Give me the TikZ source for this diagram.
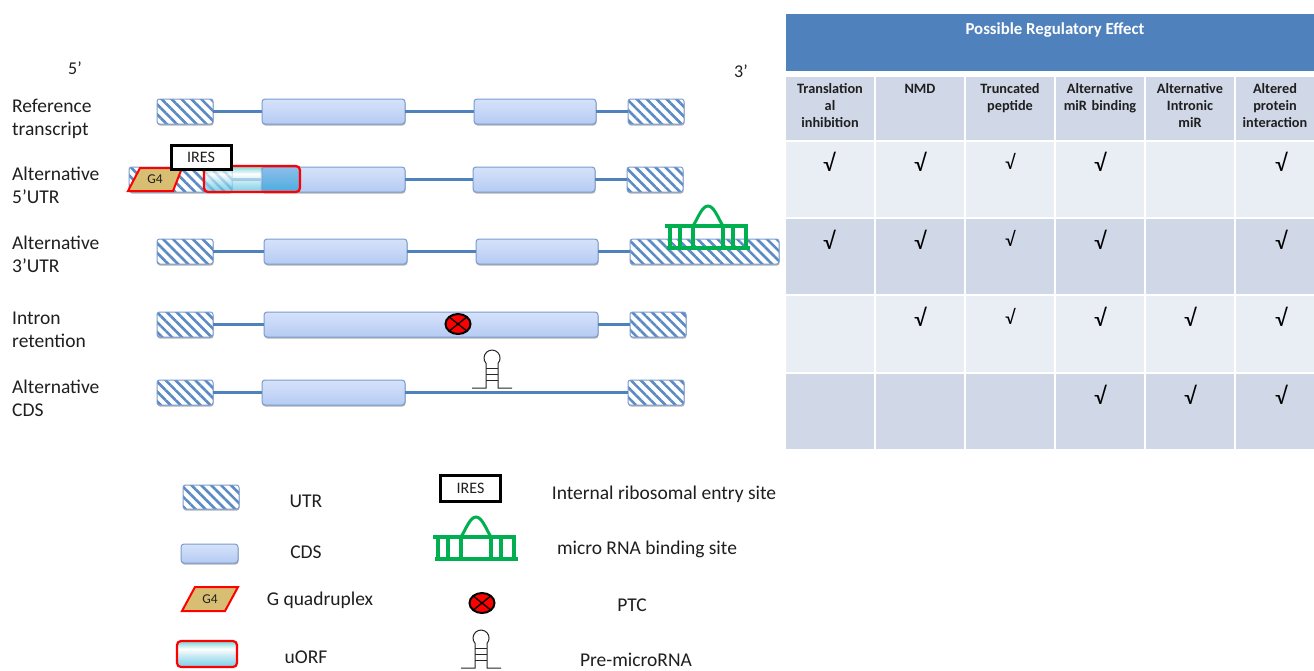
\documentclass[tikz,border=0pt]{standalone}
\usepackage{fontspec}
\setmainfont{Carlito}
\usetikzlibrary{patterns.meta,shadows,shapes.geometric,calc}
\definecolor{utrblue}{HTML}{5B8AC4}
\definecolor{lineblue}{HTML}{4F81BD}
\definecolor{cdstop}{HTML}{D6E2FA}
\definecolor{cdsbot}{HTML}{B5CBF3}
\definecolor{cdsedge}{HTML}{7A9CCF}
\definecolor{headblue}{HTML}{4F81BD}
\definecolor{celldark}{HTML}{D0D8E8}
\definecolor{celllight}{HTML}{E9EDF4}
\definecolor{mirgreen}{HTML}{00B050}
\definecolor{gold}{HTML}{D8BE72}
\definecolor{txt}{HTML}{1F1F1F}
\definecolor{uorftop}{HTML}{45C4C4}
\definecolor{uorfbot}{HTML}{4CBCE0}
\definecolor{uorfmid}{HTML}{A8E0F0}
\definecolor{overtop}{HTML}{8CBDEA}
\definecolor{overbot}{HTML}{4FAEE0}
\pgfdeclareverticalshading{uorfshade}{100bp}{color(0bp)=(uorfbot); color(25bp)=(uorfbot); color(45bp)=(uorfmid); color(60bp)=(white); color(75bp)=(uorftop); color(100bp)=(uorftop)}
\tikzset{
  x=1pt,y=-1pt,
  softshadow/.style={drop shadow={shadow xshift=0.5pt,shadow yshift=-1.5pt,opacity=.3,fill=black}},
  base/.style={rectangle,inner sep=0pt,outer sep=0pt},
  utrbox/.style={base,rounded corners=2.5pt,softshadow,preaction={fill=white},draw=cdsedge,line width=1pt,
    pattern={Lines[angle=-45,distance=7pt,line width=2.6pt]},pattern color=utrblue},
  cdsbox/.style={base,rounded corners=3pt,softshadow,draw=cdsedge,line width=1pt,top color=cdstop,bottom color=cdsbot},
  uorffill/.style={base,rounded corners=4pt,fill opacity=.72,shading=uorfshade},
  uorfedge/.style={base,rounded corners=4pt,draw=red,line width=2.2pt},
  overlap/.style={base,rounded corners=2pt,draw=cdsedge,line width=.8pt,top color=overtop,bottom color=overbot},
  iresbox/.style={base,draw=black,line width=3pt,fill=white,font=\fontsize{16}{18}\selectfont,text=txt},
  backbone/.style={draw=lineblue,line width=2.8pt},
  gfour/.style={draw=red,line width=2pt,fill=gold,line join=miter},
  ptcmark/.style={ellipse,draw=black,line width=2pt,fill=red,inner sep=0pt,outer sep=0pt,minimum width=25pt,minimum height=20pt},
  ptccross/.style={draw=black,line width=1.4pt},
  hairpin/.style={draw=black!85,line width=1pt},
  mirline/.style={draw=mirgreen,line width=3.4pt},
  lab/.style={inner sep=0pt,align=left,anchor=west,font=\fontsize{19.5}{23}\selectfont,text=txt},
  leg/.style={inner sep=0pt,font=\fontsize{19.5}{22}\selectfont,text=txt},
  th/.style={base,fill=celldark,align=center,font=\bfseries\fontsize{14.3}{16.7}\selectfont,text=txt},
  tick/.style={inner sep=0pt,font=\fontsize{24}{26}\selectfont,text=black},
  ticksm/.style={inner sep=0pt,font=\fontsize{20}{22}\selectfont,text=black},
}
\newcommand{\bx}[6]{\node[#2,minimum width={(#5-#3)*1pt},minimum height={(#6-#4)*1pt}] (#1) at ({(#3+#5)/2},{(#4+#6)/2}) {};}
\newcommand{\thx}[7]{\node[th,anchor=north,text width={(#5-#3)*1pt},minimum width={(#5-#3)*1pt},minimum height={(#6-#4)*1pt}] (#1) at ({(#3+#5)/2},#4) {\vspace{3pt}\\[-16pt]#7};}
\newcommand{\mirglyph}[2]{\begin{scope}[shift={(#1,#2)}]
  \foreach \v in {5,15,28,58,68,81}{\draw[mirline] (\v,0) -- (\v,22);}
  \draw[mirline] (0,0) -- (83,0);
  \draw[mirline] (2,22) -- (85,22);
  \draw[mirline,line width=3pt,line cap=round] (28,0) .. controls (33,-8) and (37,-20) .. (43,-20) .. controls (49,-20) and (53,-8) .. (58,0);
\end{scope}}
\newcommand{\hairglyph}[2]{\begin{scope}[shift={(#1,#2)}]
  \draw[hairpin] (-20,30) -- (-6,30) -- (-6,5.3) arc[start angle=139,end angle=401,radius=8] -- (6,30) -- (20,30);
  \foreach \v in {10,16,22}{\draw[hairpin] (-6,\v) -- (6,\v);}
\end{scope}}
\newcommand{\ptc}[3]{\node[ptcmark] (#1) at (#2,#3) {};
  \draw[ptccross] (#1.north west) -- (#1.south east);
  \draw[ptccross] (#1.north east) -- (#1.south west);}
\begin{document}
\begin{tikzpicture}
\useasboundingbox (0,0) rectangle (1314,670);
\fill[white] (0,0) rectangle (1314,670);

% ---- end labels
\node[inner sep=0pt,font=\fontsize{18}{20}\selectfont,text=txt] (five) at (75,68) {5’};
\node[inner sep=0pt,font=\fontsize{18}{20}\selectfont,text=txt] (three) at (741,71) {3’};

% ---- row labels
\node[lab] (l1) at (12,119) {Reference\\transcript};
\node[lab] (l2) at (12,185) {Alternative\\5’UTR};
\node[lab] (l3) at (12,254) {Alternative\\3’UTR};
\node[lab] (l4) at (12,330) {Intron\\retention};
\node[lab] (l5) at (12,398.5) {Alternative\\CDS};

% ---- reference transcript
\bx{a1}{utrbox}{157}{99}{213}{124}
\bx{a2}{cdsbox}{262}{99}{405}{124}
\bx{a3}{cdsbox}{474}{99}{596}{124}
\bx{a4}{utrbox}{628}{99}{684}{124}
\draw[backbone] (a1.east) -- (a2.west);
\draw[backbone] (a2.east) -- (a3.west);
\draw[backbone] (a3.east) -- (a4.west);

% ---- alternative 5'UTR
\bx{b1}{utrbox}{129}{167}{232}{192}
\bx{b2}{cdsbox}{261}{167}{405}{192}
\bx{b3}{cdsbox}{473}{167}{595}{192}
\bx{b4}{utrbox}{627}{167}{683}{192}
\draw[backbone] (b1.east) -- (b2.west);
\draw[backbone] (b2.east) -- (b3.west);
\draw[backbone] (b3.east) -- (b4.west);
\bx{b5}{uorffill}{204}{166}{300}{192}
\bx{b6}{overlap}{262}{167.5}{299}{190.5}
\bx{b7}{uorfedge}{204}{166}{300}{192}
\path[gfour] (140,168) -- (182,168) -- (173,191) -- (128,191) -- cycle;
\node[inner sep=0pt,font=\fontsize{13.5}{14}\selectfont,text=txt] (g1) at (155,179.5) {G4};
\node[iresbox,minimum width=60pt,minimum height=24pt] (i1) at (201,157) {IRES};

% ---- alternative 3'UTR
\bx{c1}{utrbox}{157}{239}{213}{264}
\bx{c2}{cdsbox}{264}{239}{407}{264}
\bx{c3}{cdsbox}{476}{239}{598}{264}
\bx{c4}{utrbox}{630}{239}{779}{264}
\draw[backbone] (c1.east) -- (c2.west);
\draw[backbone] (c2.east) -- (c3.west);
\draw[backbone] (c3.east) -- (c4.west);
\mirglyph{665}{226}

% ---- intron retention
\bx{d1}{utrbox}{157}{312}{213}{337}
\bx{d2}{cdsbox}{264}{312}{598}{337}
\bx{d3}{utrbox}{630}{312}{686}{337}
\draw[backbone] (d1.east) -- (d2.west);
\draw[backbone] (d2.east) -- (d3.west);
\ptc{p1}{458}{324}

% ---- alternative CDS
\bx{e1}{utrbox}{157}{380}{213}{405}
\bx{e2}{cdsbox}{262}{380}{405}{405}
\bx{e3}{utrbox}{628}{380}{684}{405}
\draw[backbone] (e1.east) -- (e2.west);
\draw[backbone] (e2.east) -- (e3.west);
\hairglyph{492}{358}

% ---- legend, left
\bx{k1}{utrbox}{183}{485}{239}{509}
\bx{k2}{cdsbox}{181}{544}{238}{563}
\path[gfour] (195,587) -- (238,587) -- (225,611) -- (182,611) -- cycle;
\node[inner sep=0pt,font=\fontsize{13.5}{14}\selectfont,text=txt] (g2) at (210,599.5) {G4};
\bx{k4}{uorffill}{177}{641}{237}{667}
\bx{k5}{uorfedge}{177}{641}{237}{667}
\node[leg] (t1) at (306,501) {UTR};
\node[leg] (t2) at (306,552) {CDS};
\node[leg] (t3) at (320,600) {G quadruplex};
\node[leg] (t4) at (306,657) {uORF};

% ---- legend, right
\node[iresbox,minimum width=60pt,minimum height=26pt] (i2) at (470.5,488) {IRES};
\mirglyph{433}{537}
\ptc{p2}{482}{603}
\hairglyph{481}{638}
\node[leg] (t5) at (664,494) {Internal ribosomal entry site};
\node[leg] (t6) at (647,549) {micro RNA binding site};
\node[leg] (t7) at (632,605) {PTC};
\node[leg] (t8) at (636,660) {Pre-microRNA};

% ---- table
\bx{h0}{base,fill=headblue}{786}{14}{1314}{71}
\node[inner sep=0pt,text=white,font=\bfseries\fontsize{16.8}{18}\selectfont] (ht) at (1055,30) {Possible Regulatory Effect};
\thx{h1}{}{786}{77}{874}{140}{Translation\\al\\inhibition}
\thx{h2}{}{876}{77}{964}{140}{NMD\\\phantom{x}\\\phantom{x}}
\thx{h3}{}{966}{77}{1054}{140}{Truncated\\peptide\\\phantom{x}}
\thx{h4}{}{1056}{77}{1144}{140}{Alternative\\miR binding\\\phantom{x}}
\thx{h5}{}{1146}{77}{1234}{140}{Alternative\\Intronic\\miR}
\thx{h6}{}{1236}{77}{1314}{140}{Altered\\protein\\\mbox{interaction}}

\foreach \ya/\yb/\col in {142/217/celllight,219/294/celldark,296/372/celllight,374/449/celldark}{
  \foreach \xa/\xb in {786/874,876/964,966/1054,1056/1144,1146/1234,1236/1314}{
    \fill[\col] (\xa,\ya) rectangle (\xb,\yb);
  }
}
\foreach \x/\y [count=\n] in {829/162,920/162,1100/162,1281/162,829/240,920/240,1100/240,1281/240,920/317,1100/317,1190/317,1281/317,1100/395,1190/395,1281/395}{
  \node[tick] (v\n) at (\x,\y) {√};
}
\foreach \y [count=\n] in {161,238,316}{
  \node[ticksm] (w\n) at (1010,\y) {√};
}
\end{tikzpicture}
\end{document}
